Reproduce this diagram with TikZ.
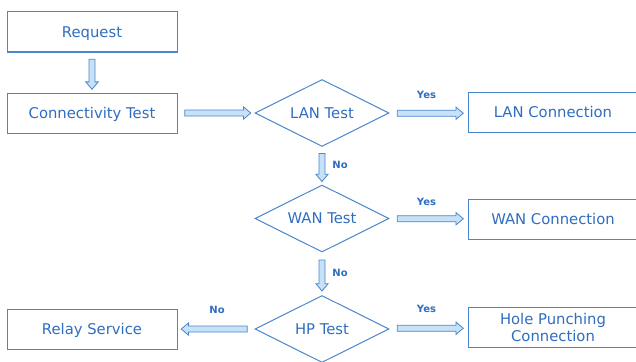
\documentclass[tikz,border=0pt]{standalone}
\usepackage{fontspec}
\setmainfont{DejaVu Sans}
\usetikzlibrary{shapes.geometric,shapes.arrows,calc}
\definecolor{strk}{HTML}{4A86CC}
\definecolor{txt}{HTML}{2F6DBF}
\definecolor{afill}{HTML}{C6E1F8}
\tikzset{
  base/.style={draw=strk, line width=1pt, inner sep=0pt, text=txt, font=\fontsize{14.8}{17.5}\selectfont},
  box/.style={base, minimum width=170pt, minimum height=40pt, text height=10.8pt, text depth=0pt},
  box2/.style={base, minimum width=170pt, minimum height=40pt, align=center},
  dec/.style={base, diamond, aspect=2, minimum width=134pt, minimum height=67pt, text height=10.8pt, text depth=0pt},
  fat/.style={single arrow, draw=strk, fill=afill, line width=0.8pt, minimum width=12pt, inner sep=2.6pt, single arrow head extend=3.2pt, single arrow tip angle=80},
  lbl/.style={text=txt, font=\bfseries\fontsize{10}{11}\selectfont, inner sep=0pt}
}
\begin{document}
\begin{tikzpicture}[x=1pt,y=-1pt]
\useasboundingbox (0,0) rectangle (636,361);
\node[box] (req) at (92,32) {Request};
\node[box] (ct) at (92,113) {Connectivity Test};
\node[dec] (lan) at (322,113) {LAN Test};
\node[box] (lanc) at (553,112.5) {LAN Connection};
\node[dec] (wan) at (322,218.5) {WAN Test};
\node[box] (wanc) at (553,219) {WAN Connection};
\node[dec] (hp) at (322,329) {HP Test};
\node[box2] (hpc) at (553,327.5) {Hole Punching\\Connection};
\node[box] (relay) at (92,329) {Relay Service};
% arrows
\node[fat, minimum height=30pt, shape border rotate=270] (a1) at ($(req.south)!0.5!(ct.north)$) {};
\node[fat, minimum height=66pt] (a2) at ($(ct.east)!0.5!(lan.west)$) {};
\node[fat, minimum height=66pt] (a3) at ($(lan.east)!0.5!(lanc.west)+(0,0.5)$) {};
\node[fat, minimum height=28pt, shape border rotate=270] (a4) at ($(lan.south)!0.5!(wan.north)$) {};
\node[fat, minimum height=66pt] (a5) at ($(wan.east)!0.5!(wanc.west)$) {};
\node[fat, minimum height=31pt, shape border rotate=270] (a6) at ($(wan.south)!0.5!(hp.north)$) {};
\node[fat, minimum height=66pt] (a7) at ($(hp.east)!0.5!(hpc.west)$) {};
\node[fat, minimum height=66pt, shape border rotate=180] (a8) at ($(relay.east)!0.5!(hp.west)$) {};
% labels
\node[lbl] (y1) at ($(a3.center)+(-2,-18)$) {Yes};
\node[lbl] (n1) at ($(a4.center)+(18,-1)$) {No};
\node[lbl] (y2) at ($(a5.center)+(-2,-17)$) {Yes};
\node[lbl] (n2) at ($(a6.center)+(18,-1)$) {No};
\node[lbl] (y3) at ($(a7.center)+(-2,-19)$) {Yes};
\node[lbl] (n3) at ($(a8.center)+(1,-19)$) {No};
\end{tikzpicture}
\end{document}
